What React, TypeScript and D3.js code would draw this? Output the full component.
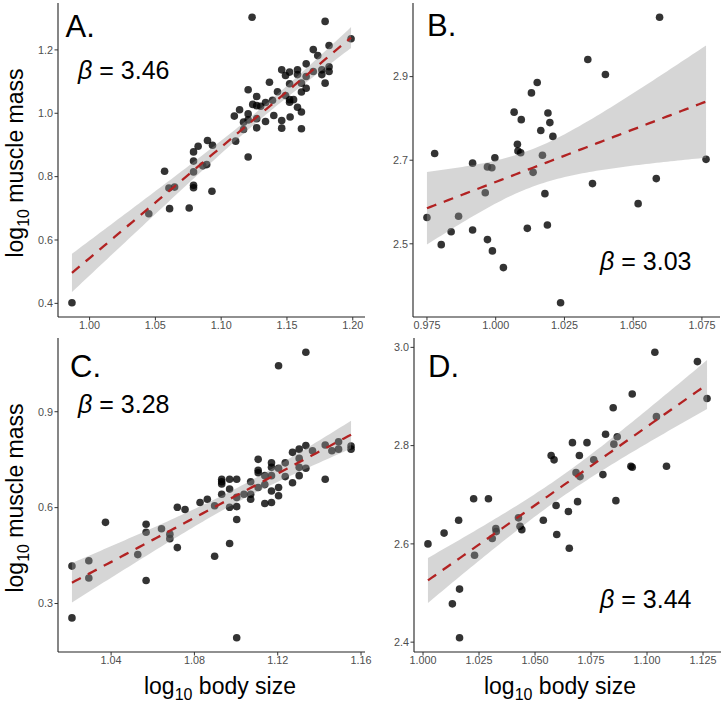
import React from 'react';
import * as d3 from 'd3';

// ---------- data ----------
const aBody = [0.9866,1.045,1.057,1.0608,1.0603,1.0646,1.0757,1.079,1.079,1.0825,1.079,1.079,1.079,1.086,1.089,1.0896,1.0934,1.093,1.110,1.114,1.111,1.117,1.117,1.1205,1.1205,1.1205,1.1205,1.1235,1.124,1.127,1.127,1.127,1.127,1.130,1.1337,1.1337,1.1367,1.139,1.140,1.1428,1.146,1.146,1.146,1.1489,1.1489,1.152,1.152,1.152,1.152,1.1524,1.155,1.158,1.158,1.158,1.161,1.161,1.161,1.161,1.1646,1.1646,1.1646,1.170,1.170,1.1734,1.1765,1.1765,1.179,1.179,1.182,1.182,1.182,1.1987];
const aMuscle = [0.402,0.683,0.817,0.699,0.764,0.767,0.701,0.878,0.849,0.896,0.815,0.773,0.765,0.834,0.838,0.914,0.899,0.754,0.991,1.011,0.912,0.949,0.972,1.074,0.998,0.979,0.862,1.303,1.028,1.053,1.024,0.983,0.954,1.022,1.034,0.974,1.098,1.041,0.993,1.068,1.137,0.977,0.953,1.119,1.056,1.130,1.093,1.043,1.035,0.988,1.043,1.137,1.122,1.019,1.095,1.067,1.004,0.951,1.156,1.079,1.116,1.201,1.132,1.182,1.137,1.122,1.290,1.095,1.214,1.147,1.132,1.235];

const bBody = [0.975,0.9778,0.9802,0.9838,0.9865,0.9916,0.9916,0.9962,0.997,0.997,0.9986,0.9988,0.9997,1.0028,1.0067,1.0079,1.0081,1.0091,1.0093,1.0115,1.0130,1.0136,1.0151,1.0164,1.017,1.0179,1.0188,1.019,1.0197,1.0208,1.0236,1.0335,1.0352,1.0399,1.0518,1.0584,1.0596,1.0765];
const bMuscle = [2.563,2.716,2.498,2.529,2.566,2.693,2.533,2.622,2.510,2.684,2.682,2.483,2.706,2.443,2.815,2.738,2.722,2.718,2.797,2.537,2.861,2.671,2.886,2.771,2.712,2.620,2.545,2.813,2.790,2.757,2.359,2.941,2.644,2.905,2.596,2.656,3.042,2.702];

const cBody = [1.0212,1.0212,1.0293,1.0293,1.0373,1.0528,1.0568,1.0568,1.0568,1.0642,1.0682,1.0682,1.0718,1.0718,1.0755,1.0827,1.0862,1.0897,1.0897,1.0931,1.0931,1.0931,1.0931,1.0969,1.0969,1.0969,1.0969,1.1003,1.1003,1.1003,1.1003,1.1003,1.1038,1.107,1.107,1.107,1.1106,1.1106,1.1106,1.1106,1.1138,1.1138,1.1138,1.117,1.117,1.117,1.117,1.117,1.1204,1.1204,1.1204,1.1204,1.1236,1.1236,1.1271,1.1271,1.1303,1.1303,1.1303,1.1303,1.1335,1.1335,1.1335,1.1367,1.1428,1.1428,1.146,1.1492,1.1492,1.1552,1.1552];
const cMuscle = [0.417,0.255,0.434,0.380,0.554,0.453,0.548,0.523,0.372,0.534,0.517,0.503,0.601,0.475,0.594,0.616,0.626,0.448,0.606,0.689,0.674,0.642,0.681,0.689,0.658,0.601,0.488,0.689,0.632,0.603,0.563,0.193,0.642,0.681,0.642,0.626,0.751,0.717,0.709,0.663,0.700,0.672,0.613,0.740,0.726,0.700,0.652,0.616,1.044,0.723,0.663,0.637,0.740,0.697,0.773,0.678,0.754,0.726,0.700,0.783,1.086,0.794,0.723,0.778,0.796,0.689,0.778,0.806,0.783,0.793,0.783];

const dBody = [1.0022,1.0094,1.0131,1.0159,1.0163,1.0163,1.0226,1.023,1.0292,1.0309,1.0325,1.0327,1.0426,1.0433,1.0441,1.0537,1.0572,1.0585,1.0594,1.0597,1.0649,1.0653,1.0667,1.0683,1.069,1.0698,1.0701,1.0732,1.0762,1.0803,1.0815,1.0849,1.0852,1.0861,1.0867,1.0928,1.0934,1.0934,1.1035,1.1042,1.1087,1.1225,1.1268];
const dMuscle = [2.600,2.622,2.478,2.648,2.508,2.409,2.692,2.577,2.692,2.611,2.631,2.625,2.653,2.636,2.629,2.648,2.780,2.771,2.678,2.619,2.666,2.591,2.806,2.745,2.686,2.780,2.737,2.806,2.771,2.741,2.823,2.877,2.803,2.688,2.818,2.758,2.756,2.905,2.990,2.859,2.758,2.971,2.896];

const aXTicks = [1.0, 1.05, 1.1, 1.15, 1.2];
const aYTicks = [0.4, 0.6, 0.8, 1.0, 1.2];
const bXTicks = [0.975, 1.0, 1.025, 1.05, 1.075];
const bYTicks = [2.5, 2.7, 2.9];
const cXTicks = [1.04, 1.08, 1.12, 1.16];
const cYTicks = [0.3, 0.6, 0.9];
const dXTicks = [1.0, 1.025, 1.05, 1.075, 1.1, 1.125];
const dYTicks = [2.4, 2.6, 2.8, 3.0];

const panelLetters = ['A.', 'B.', 'C.', 'D.'];
const betaValues = ['3.46', '3.03', '3.28', '3.44'];

// ---------- helpers ----------
const expand = (v: number[]) => {
  const [lo, hi] = d3.extent(v) as [number, number];
  const e = (hi - lo) * 0.05;
  return [lo - e, hi + e];
};

function lmFit(xs: number[], ys: number[]) {
  const n = xs.length;
  const mx = d3.mean(xs)!;
  const my = d3.mean(ys)!;
  let sxx = 0, sxy = 0;
  xs.forEach((x, i) => { sxx += (x - mx) ** 2; sxy += (x - mx) * (ys[i] - my); });
  const b = sxy / sxx;
  const a = my - b * mx;
  let sse = 0;
  xs.forEach((x, i) => { sse += (ys[i] - a - b * x) ** 2; });
  const df = n - 2;
  const s = Math.sqrt(sse / df);
  const t = 1.96 + 2.4 / df;
  const [lo, hi] = d3.extent(xs) as [number, number];
  const grid = d3.range(80).map(i => lo + (hi - lo) * i / 79);
  return grid.map(x => {
    const yh = a + b * x;
    const se = s * Math.sqrt(1 / n + (x - mx) ** 2 / sxx);
    return { x, y: yh, lo: yh - t * se, hi: yh + t * se };
  });
}

const FONT = '"Liberation Sans", Arial, Helvetica, sans-serif';

type PanelProps = {
  xs: number[]; ys: number[];
  xTicks: number[]; yTicks: number[];
  xDec: number; yDec: number;
  box: { l: number; r: number; t: number; b: number };
  letter: string; letterPos: [number, number];
  beta: string; betaPos: [number, number];
};

function Panel(p: PanelProps) {
  const { l, r, t, b } = p.box;
  const x = d3.scaleLinear().domain(expand(p.xs)).range([l, r]);
  const y = d3.scaleLinear().domain(expand(p.ys)).range([b, t]);
  const fit = lmFit(p.xs, p.ys);
  const area = d3.area<any>().x(d => x(d.x)).y0(d => y(d.lo)).y1(d => y(d.hi));
  const line = d3.line<any>().x(d => x(d.x)).y(d => y(d.y));
  const fx = d3.format(`.${p.xDec}f`);
  const fy = d3.format(`.${p.yDec}f`);
  return (
    <g>
      {p.xs.map((v, i) => (
        <circle key={i} cx={x(v)} cy={y(p.ys[i])} r={3.8} fill="#000" fillOpacity={0.8} />
      ))}
      <path d={area(fit) || ''} fill="#999999" fillOpacity={0.4} />
      <path d={line(fit) || ''} fill="none" stroke="#b22222" strokeWidth={2.3} strokeDasharray="10 8" />
      {/* axes */}
      <line x1={l} x2={r} y1={b} y2={b} stroke="#222" strokeWidth={1.1} />
      <line x1={l} x2={l} y1={t} y2={b} stroke="#222" strokeWidth={1.1} />
      {p.xTicks.map(v => (
        <g key={'x' + v}>
          <line x1={x(v)} x2={x(v)} y1={b} y2={b + 3.5} stroke="#333" strokeWidth={1} />
          <text x={x(v)} y={b + 12} textAnchor="middle" fontSize={10.8} fill="#4d4d4d" fontFamily={FONT}>{fx(v)}</text>
        </g>
      ))}
      {p.yTicks.map(v => (
        <g key={'y' + v}>
          <line x1={l - 3.5} x2={l} y1={y(v)} y2={y(v)} stroke="#333" strokeWidth={1} />
          <text x={l - 5} y={y(v)} dy="0.35em" textAnchor="end" fontSize={10.8} fill="#4d4d4d" fontFamily={FONT}>{fy(v)}</text>
        </g>
      ))}
      <text x={p.letterPos[0]} y={p.letterPos[1]} fontSize={31} fontFamily={FONT} fill="#000">{p.letter}</text>
      <text x={p.betaPos[0]} y={p.betaPos[1]} fontSize={25} fontFamily={FONT} fill="#000">
        <tspan fontStyle="italic">β</tspan> = {p.beta}
      </text>
    </g>
  );
}

function YTitle({ cx, cy }: { cx: number; cy: number }) {
  return (
    <text transform={`translate(${cx},${cy}) rotate(-90)`} textAnchor="middle" fontSize={23} fontFamily={FONT} fill="#000">
      log<tspan fontSize={16} dy={6}>10</tspan><tspan dy={-6}> muscle mass</tspan>
    </text>
  );
}

function XTitle({ cx, cy }: { cx: number; cy: number }) {
  return (
    <text x={cx} y={cy} textAnchor="middle" fontSize={23} fontFamily={FONT} fill="#000">
      log<tspan fontSize={16} dy={6}>10</tspan><tspan dy={-6}> body size</tspan>
    </text>
  );
}

export default function App() {
  return (
    <svg width={728} height={705} style={{ position: 'absolute', left: 0, top: 0, background: '#fff' }}>
      <rect width={728} height={705} fill="#fff" />
      <Panel xs={aBody} ys={aMuscle} xTicks={aXTicks} yTicks={aYTicks} xDec={2} yDec={1}
        box={{ l: 58, r: 365, t: 3, b: 317 }} letter={panelLetters[0]} letterPos={[65.5, 36.5]}
        beta={betaValues[0]} betaPos={[78, 79]} />
      <Panel xs={bBody} ys={bMuscle} xTicks={bXTicks} yTicks={bYTicks} xDec={3} yDec={1}
        box={{ l: 413, r: 720, t: 3, b: 317 }} letter={panelLetters[1]} letterPos={[427, 36]}
        beta={betaValues[1]} betaPos={[600, 270]} />
      <Panel xs={cBody} ys={cMuscle} xTicks={cXTicks} yTicks={cYTicks} xDec={2} yDec={1}
        box={{ l: 58, r: 365, t: 338, b: 652 }} letter={panelLetters[2]} letterPos={[70, 376.5]}
        beta={betaValues[2]} betaPos={[78, 412.5]} />
      <Panel xs={dBody} ys={dMuscle} xTicks={dXTicks} yTicks={dYTicks} xDec={3} yDec={1}
        box={{ l: 414, r: 721, t: 338, b: 652 }} letter={panelLetters[3]} letterPos={[428, 376.5]}
        beta={betaValues[3]} betaPos={[600, 608]} />
      <YTitle cx={23} cy={163} />
      <YTitle cx={23} cy={498} />
      <XTitle cx={220} cy={694} />
      <XTitle cx={560} cy={694} />
    </svg>
  );
}
